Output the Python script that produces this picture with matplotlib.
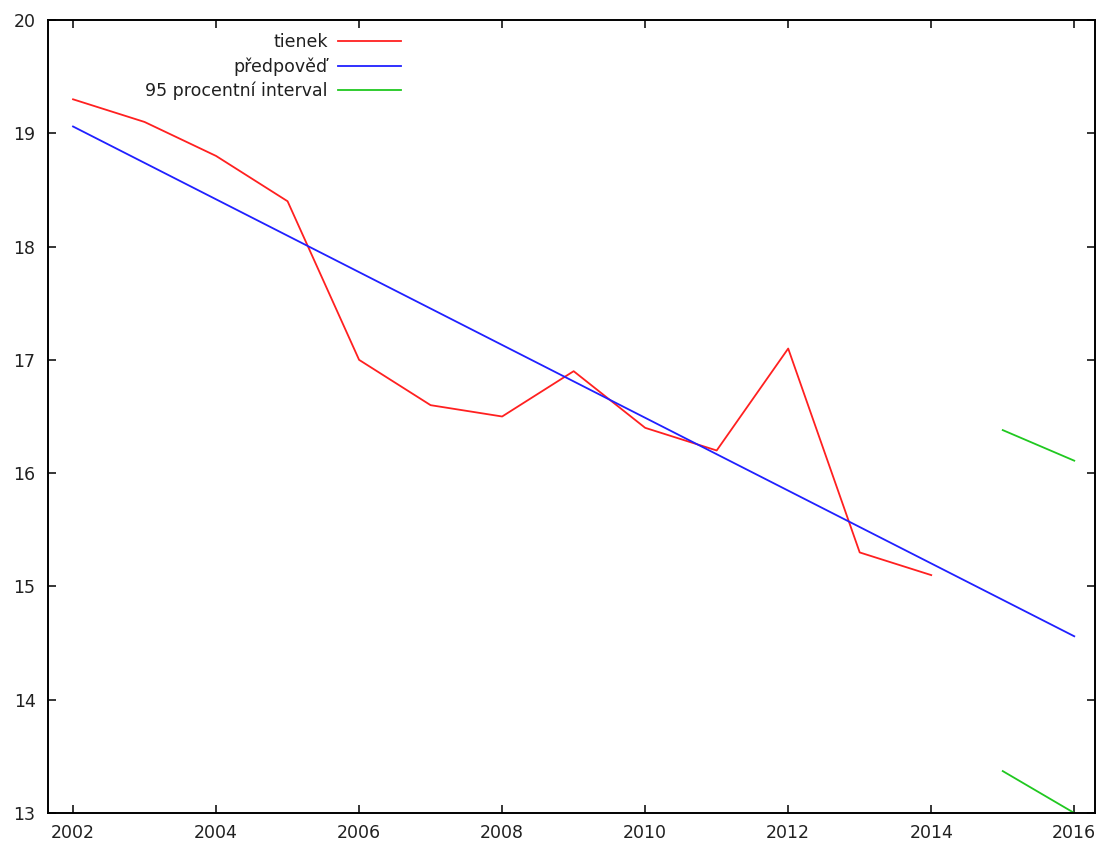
import matplotlib.pyplot as plt
import numpy as np

# observed values
years = [2002, 2003, 2004, 2005, 2006, 2007, 2008, 2009, 2010, 2011, 2012, 2013, 2014]
tienek = [19.3, 19.1, 18.8, 18.4, 17.0, 16.6, 16.5, 16.9, 16.4, 16.2, 17.1, 15.3, 15.1]

# linear trend, extended over the forecast years
trend_years = [2002, 2016]
trend_values = [19.06, 14.56]

# 95 % interval for the forecast years
interval_years = [2015, 2016]
interval_upper = [16.38, 16.11]
interval_lower = [13.37, 13.0]

xticks = [2002, 2004, 2006, 2008, 2010, 2012, 2014, 2016]
yticks = [13, 14, 15, 16, 17, 18, 19, 20]

fig = plt.figure(figsize=(11.02, 8.47), dpi=100)
ax = fig.add_axes([48/1102, 1 - 813/847, (1095 - 48)/1102, (813 - 20)/847])

lw = 1.3
ax.plot(years, tienek, color='#ff2020', lw=lw, label='tienek')
ax.plot(trend_years, trend_values, color='#2020ff', lw=lw, label='předpověď')
ax.plot(interval_years, interval_upper, color='#20c820', lw=lw, label='95 procentní interval')
ax.plot(interval_years, interval_lower, color='#20c820', lw=lw)

ax.set_xlim(2001.65, 2016.29)
ax.set_ylim(13, 20)
ax.set_xticks(xticks)
ax.set_yticks(yticks)
ax.tick_params(direction='in', length=6, width=1.1, top=True, right=True,
               labelsize=12.5, labelcolor='#202020')
ax.tick_params(axis='y', pad=9)
ax.tick_params(axis='x', pad=8)
for s in ax.spines.values():
    s.set_linewidth(1.4)

leg = ax.legend(loc='upper right', bbox_to_anchor=(0.337, 0.983), frameon=False,
                markerfirst=False, fontsize=12.5, handlelength=3.6,
                handletextpad=0.6, labelspacing=0.33, borderpad=0, borderaxespad=0)
for t in leg.get_texts():
    t.set_ha('right')
    t.set_color('#202020')
leg._legend_box.align = 'right'

fig.savefig('out.png', dpi=100)
